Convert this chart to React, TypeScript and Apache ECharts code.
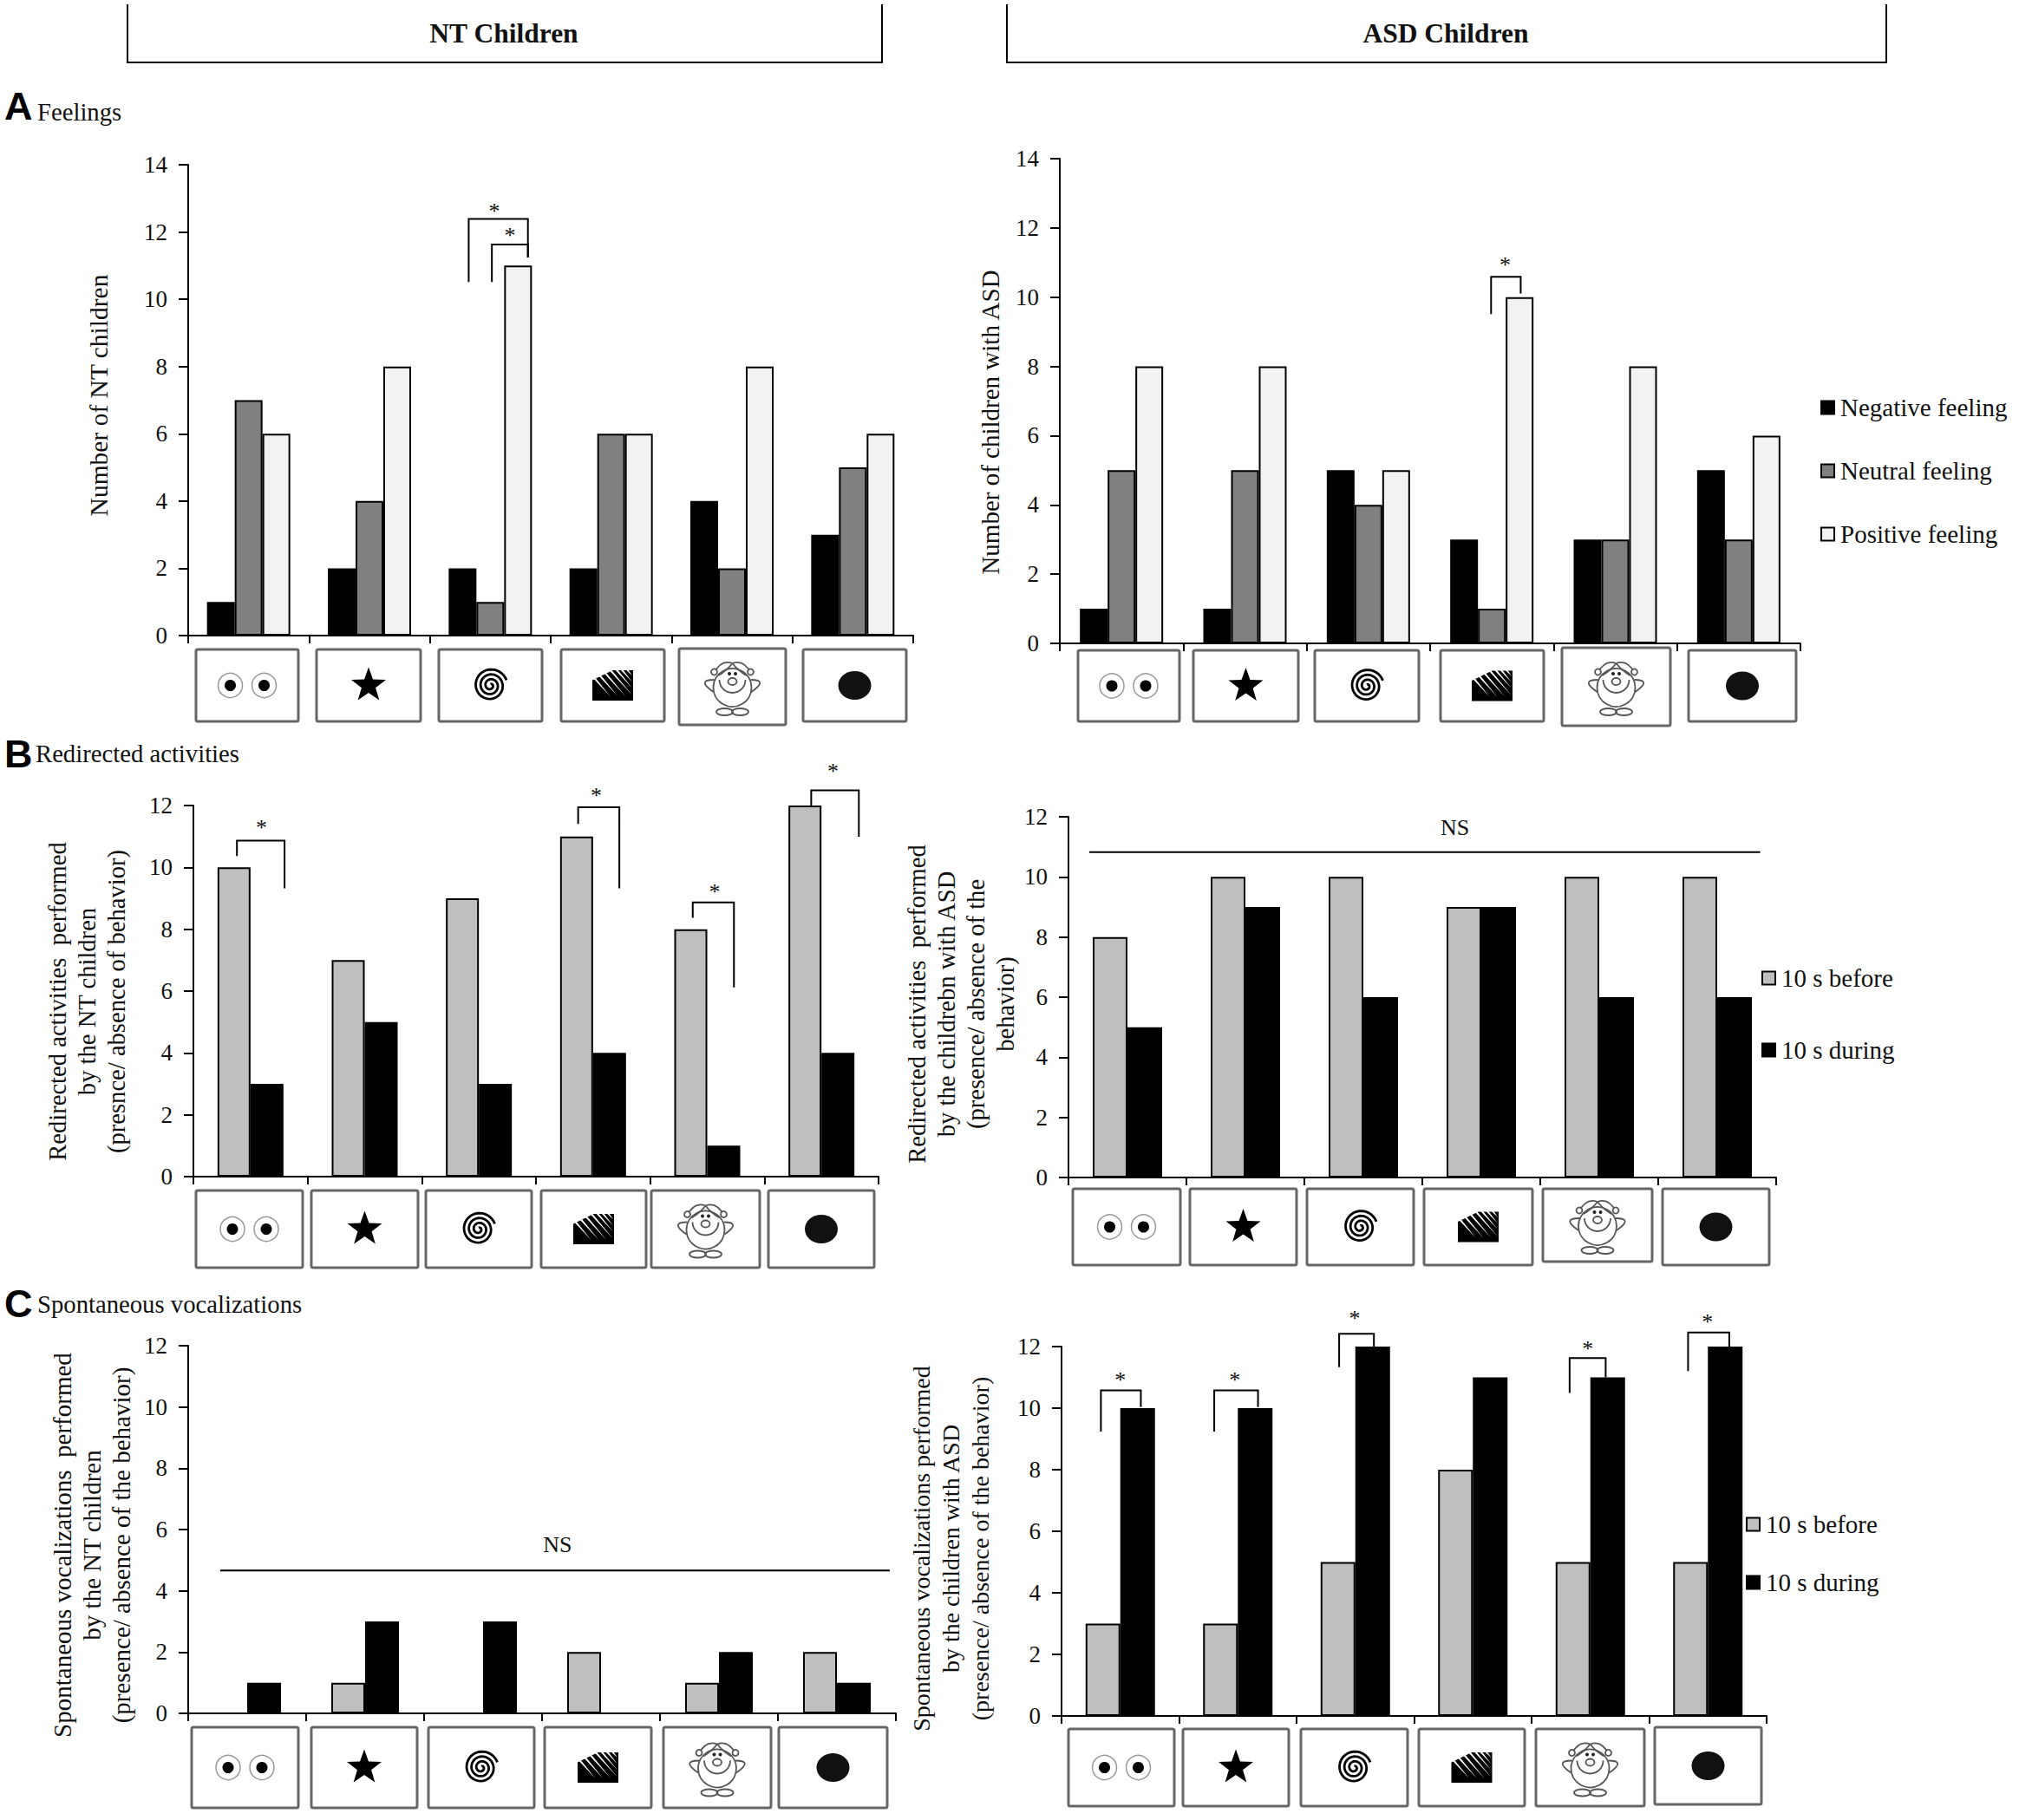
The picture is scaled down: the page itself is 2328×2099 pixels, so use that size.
import { useEffect, useRef } from "react";
import * as echarts from "echarts";

const serif = "Liberation Serif";
const S = 2328 / 1568; // annotation positions below were read at 1568 wide

const categories = ["Eyes", "Star", "Spiral", "Hatch", "Face", "Dot"];

const feelNames = ["Negative feeling", "Neutral feeling", "Positive feeling"];
const timeNames = ["10 s before", "10 s during"];

const feelNtNegative = [1, 2, 2, 2, 4, 3];
const feelNtNeutral = [7, 4, 1, 6, 2, 5];
const feelNtPositive = [6, 8, 11, 6, 8, 6];
const feelAsdNegative = [1, 1, 5, 3, 3, 5];
const feelAsdNeutral = [5, 5, 4, 1, 3, 3];
const feelAsdPositive = [8, 8, 5, 10, 8, 6];

const redirNtBefore = [10, 7, 9, 11, 8, 12];
const redirNtDuring = [3, 5, 3, 4, 1, 4];
const redirAsdBefore = [8, 10, 10, 9, 10, 10];
const redirAsdDuring = [5, 9, 6, 9, 6, 6];

const vocalNtBefore = [0, 1, 0, 2, 1, 2];
const vocalNtDuring = [1, 3, 3, 0, 2, 1];
const vocalAsdBefore = [3, 3, 5, 8, 5, 5];
const vocalAsdDuring = [10, 10, 12, 11, 11, 12];

const seriesColors: Record<string, string> = {
  "Negative feeling": "#000000",
  "Neutral feeling": "#808080",
  "Positive feeling": "#f2f2f2",
  "10 s before": "#bfbfbf",
  "10 s during": "#000000",
};

const panels = [
  { left: 217, width: 836, top: 190, bottom: 733, max: 14, barWidth: 32, names: feelNames, values: [feelNtNegative, feelNtNeutral, feelNtPositive], label: "Number of NT children", nameX: 114, nameY: 456, nameSize: 29.5 },
  { left: 1222, width: 854, top: 183, bottom: 742, max: 14, barWidth: 32, names: feelNames, values: [feelAsdNegative, feelAsdNeutral, feelAsdPositive], label: "Number of children with ASD", nameX: 1142, nameY: 487, nameSize: 29 },
  { left: 223, width: 790, top: 929, bottom: 1357, max: 12, barWidth: 38, names: timeNames, values: [redirNtBefore, redirNtDuring], label: "Redirected activities  performed\nby the NT children\n(presnce/ absence of behavior)", nameX: 100, nameY: 1155, nameSize: 28.6 },
  { left: 1232, width: 816, top: 942, bottom: 1358, max: 12, barWidth: 40, names: timeNames, values: [redirAsdBefore, redirAsdDuring], label: "Redirected activities  performed\nby the childrebn with ASD\n(presence/ absence of the\nbehavior)", nameX: 1108, nameY: 1158, nameSize: 28.6 },
  { left: 217, width: 816, top: 1552, bottom: 1976, max: 12, barWidth: 39, names: timeNames, values: [vocalNtBefore, vocalNtDuring], label: "Spontaneous vocalizations  performed\nby the NT children\n(presence/ absence of the behavior)", nameX: 106, nameY: 1782, nameSize: 29 },
  { left: 1224, width: 813, top: 1553, bottom: 1979, max: 12, barWidth: 40, names: timeNames, values: [vocalAsdBefore, vocalAsdDuring], label: "Spontaneous vocalizations performed\nby the children with ASD\n(presence/ absence of the behavior)", nameX: 1096, nameY: 1786, nameSize: 28 },
];

// picture frames under each axis: [x0, x1, y0, y1]
const frames = [
  [[226, 344, 749, 832], [365, 485, 749, 832], [506, 625, 749, 832], [647, 766, 749, 832], [783, 906, 748, 836], [926, 1045, 749, 832]],
  [[1243, 1360, 750, 832], [1376, 1497, 750, 832], [1516, 1636, 750, 832], [1661, 1780, 750, 832], [1801, 1926, 747, 837], [1947, 2071, 750, 832]],
  [[226, 349, 1373, 1462], [359, 482, 1373, 1462], [491, 613, 1373, 1462], [624, 745, 1373, 1462], [751, 876, 1373, 1462], [886, 1008, 1373, 1462]],
  [[1237, 1361, 1371, 1459], [1372, 1495, 1371, 1459], [1507, 1630, 1371, 1459], [1642, 1767, 1371, 1459], [1779, 1905, 1371, 1455], [1917, 2040, 1371, 1459]],
  [[221, 344, 1992, 2085], [359, 481, 1992, 2085], [494, 616, 1992, 2085], [628, 751, 1992, 2085], [765, 889, 1992, 2085], [898, 1023, 1992, 2085]],
  [[1232, 1354, 1994, 2083], [1364, 1486, 1994, 2083], [1500, 1623, 1994, 2083], [1636, 1758, 1994, 2083], [1771, 1896, 1994, 2083], [1908, 2031, 1992, 2081]],
];

// significance brackets: x0,yBottom,yTop,x1,yEnd then star position
const brackets = [
  [364, 219, 170, 410, 200, 384, 162],
  [382, 219, 190, 410, 200, 396, 181],
  [1158, 244, 215, 1181, 228, 1169, 204],
  [184, 665, 653, 221, 690, 203, 641],
  [449, 640, 627, 481, 690, 463, 616],
  [538, 713, 701, 570, 767, 555, 691],
  [630, 627, 614, 667, 650, 647, 597],
  [855, 1112, 1080, 886, 1093, 870, 1070],
  [943, 1112, 1080, 977, 1093, 959, 1070],
  [1040, 1062, 1036, 1067, 1046, 1052, 1022],
  [1219, 1082, 1055, 1247, 1070, 1233, 1046],
  [1311, 1065, 1035, 1343, 1046, 1326, 1025],
];

const line = (points: number[][], stroke = "#000", lineWidth = 2) => ({
  type: "polyline",
  shape: { points },
  style: { stroke, lineWidth, fill: "none" },
});

const text = (value: string, x: number, y: number, fontSize: number, extra: any = {}) => ({
  type: "text",
  x,
  y,
  style: {
    text: value,
    fontFamily: serif,
    fontSize,
    fill: "#111",
    align: "left",
    verticalAlign: "middle",
    ...extra,
  },
});

function eyes(cx: number, cy: number) {
  return [-19.5, 19.5].flatMap((dx) => [
    { type: "circle", shape: { cx: cx + dx, cy, r: 14 }, style: { fill: "#fff", stroke: "#999", lineWidth: 1.5 } },
    { type: "circle", shape: { cx: cx + dx, cy, r: 6.5 }, style: { fill: "#000" } },
  ]);
}

function star(cx: number, cy: number) {
  const points: number[][] = [];
  for (let i = 0; i < 10; i++) {
    const r = i % 2 ? 8.5 : 21;
    const a = -Math.PI / 2 + (i * Math.PI) / 5;
    points.push([cx + r * Math.cos(a), cy + r * Math.sin(a)]);
  }
  return [{ type: "polygon", shape: { points }, style: { fill: "#000" } }];
}

function spiral(cx: number, cy: number) {
  const points: number[][] = [];
  for (let i = 0; i <= 120; i++) {
    const t = i / 120;
    const a = -Math.PI / 2 + t * Math.PI * 6.4;
    const r = 1.5 + t * 18;
    points.push([cx + r * Math.cos(a), cy + r * Math.sin(a)]);
  }
  return [line(points, "#000", 2.8)];
}

function hatch(cx: number, cy: number) {
  const w = 23.5;
  const h = 17.5;
  const slope = 1.15;
  const out: any[] = [
    {
      type: "polygon",
      shape: { points: [[-w, -6], [0, -h], [w, -h], [w, h], [-w, h]].map(([x, y]) => [cx + x, cy + y]) },
      style: { fill: "#000" },
    },
  ];
  // white slits, wide at the top and running out towards the lower right
  for (let sx = -21; sx < 18; sx += 6.2) {
    const sy = sx < 0 ? -6 + ((sx + w) / w) * -11.5 - 1 : -h - 1;
    const len = Math.min(w - sx - 1, (h - 5 - sy) / slope);
    const tip = [sx + len, sy + len * slope];
    out.push({
      type: "polygon",
      shape: {
        points: [[sx - 1.5, sy], [sx + 1.5, sy], tip].map(([x, y]) => [cx + x, cy + y]),
      },
      style: { fill: "#fff" },
    });
  }
  return out;
}

function face(cx: number, cy: number) {
  const s = { fill: "none", stroke: "#555", lineWidth: 1.8 };
  const hair = (d: number) => [
    { type: "bezierCurve", shape: { x1: cx, y1: cy - 27, x2: cx + d * 22, y2: cy - 15, cpx1: cx + d * 13, cpy1: cy - 32 }, style: s },
    { type: "bezierCurve", shape: { x1: cx, y1: cy - 27, x2: cx + d * 16, y2: cy - 13, cpx1: cx + d * 6, cpy1: cy - 19 }, style: s },
    { type: "circle", shape: { cx: cx + d * 21, cy: cy - 17, r: 3.5 }, style: { ...s, fill: "#fff" } },
    { type: "bezierCurve", shape: { x1: cx + d * 21, y1: cy - 8, x2: cx + d * 22, y2: cy + 6, cpx1: cx + d * 42, cpy1: cy - 8 }, style: s },
  ];
  return [
    { type: "circle", shape: { cx, cy: cy + 1, r: 22 }, style: { ...s, fill: "#fff" } },
    ...hair(-1),
    ...hair(1),
    { type: "arc", shape: { cx, cy: cy - 8, r: 15, startAngle: 0, endAngle: Math.PI }, style: s },
    { type: "ellipse", shape: { cx, cy: cy - 6, rx: 5, ry: 4 }, style: s },
    { type: "circle", shape: { cx: cx - 3.5, cy: cy - 15, r: 2 }, style: { fill: "#222" } },
    { type: "circle", shape: { cx: cx + 3.5, cy: cy - 15, r: 2 }, style: { fill: "#222" } },
    { type: "ellipse", shape: { cx: cx - 9, cy: cy + 29, rx: 9.5, ry: 4 }, style: s },
    { type: "ellipse", shape: { cx: cx + 9, cy: cy + 29, rx: 9.5, ry: 4 }, style: s },
  ];
}

function dot(cx: number, cy: number) {
  return [{ type: "ellipse", shape: { cx, cy, rx: 19, ry: 16.5 }, style: { fill: "#111" } }];
}

const icons = [eyes, star, spiral, hatch, face, dot];

function buildGraphic() {
  const els: any[] = [];

  // column headers
  els.push(line([[147, 5], [147, 72], [1017, 72], [1017, 5]]));
  els.push(line([[1161, 5], [1161, 72], [2175, 72], [2175, 5]]));
  els.push(text("NT Children", 581, 38, 31.5, { align: "center", fontWeight: "bold" }));
  els.push(text("ASD Children", 1667, 38, 31.5, { align: "center", fontWeight: "bold" }));

  // section letters and titles
  const sections = [
    ["A", "Feelings", 43, 122, 129],
    ["B", "Redirected activities", 41, 869, 869],
    ["C", "Spontaneous vocalizations", 43, 1503, 1504],
  ] as const;
  sections.forEach(([letter, title, x, ly, ty]) => {
    els.push(text(letter, 5, ly, 45, { fontFamily: "Liberation Sans", fontWeight: "bold", fill: "#000" }));
    els.push(text(title, x, ty, 28.7));
  });

  // rotated axis titles
  panels.forEach((p) => {
    els.push({
      ...text(p.label, p.nameX, p.nameY, p.nameSize, { align: "center", lineHeight: 34 }),
      rotation: Math.PI / 2,
    });
  });

  // picture frames with their glyphs
  frames.forEach((row) => {
    row.forEach(([x0, x1, y0, y1], i) => {
      els.push({
        type: "rect",
        shape: { x: x0, y: y0, width: x1 - x0, height: y1 - y0, r: 2 },
        style: { fill: "#fff", stroke: "#666", lineWidth: 3 },
      });
      els.push(...icons[i]((x0 + x1) / 2, (y0 + y1) / 2));
    });
  });

  // brackets and stars
  brackets.forEach(([x0, yb, yt, x1, ye, sx, sy]) => {
    els.push(line([[x0 * S, yb * S], [x0 * S, yt * S], [x1 * S, yt * S], [x1 * S, ye * S]]));
    els.push(text("*", sx * S, sy * S + 3, 26, { align: "center" }));
  });

  // not significant spans
  els.push(line([[846 * S, 662 * S], [1367 * S, 662 * S]]));
  els.push(text("NS", 1130 * S, 643 * S, 26, { align: "center" }));
  els.push(line([[171 * S, 1220 * S], [691 * S, 1220 * S]]));
  els.push(text("NS", 433 * S, 1200 * S, 26, { align: "center" }));

  return els;
}

function legendAt(names: string[], left: number, top: number, itemGap: number) {
  return {
    data: names,
    orient: "vertical",
    left,
    top,
    itemGap,
    itemWidth: 15,
    itemHeight: 15,
    icon: "rect",
    selectedMode: false,
    padding: 0,
    textStyle: { fontFamily: serif, fontSize: 29, color: "#111", lineHeight: 30, padding: [0, 0, 0, 2] },
  };
}

export default function App() {
  const ref = useRef<HTMLDivElement>(null);

  useEffect(() => {
    if (!ref.current) return;
    document.body.style.margin = "0";
    const chart = echarts.init(ref.current, null, { renderer: "svg" });

    chart.setOption({
      animation: false,
      backgroundColor: "#ffffff",
      grid: panels.map((p) => ({ left: p.left, top: p.top, width: p.width, height: p.bottom - p.top })),
      xAxis: panels.map((_, i) => ({
        type: "category",
        gridIndex: i,
        data: categories,
        axisLabel: { show: false },
        axisLine: { lineStyle: { color: "#000", width: 2 } },
        axisTick: { show: true, length: 9, lineStyle: { color: "#000", width: 2 } },
      })),
      yAxis: panels.map((p, i) => ({
        type: "value",
        gridIndex: i,
        min: 0,
        max: p.max,
        interval: 2,
        splitLine: { show: false },
        axisLine: { show: true, lineStyle: { color: "#000", width: 2 } },
        axisTick: { show: true, length: 11, lineStyle: { color: "#000", width: 2 } },
        axisLabel: { fontFamily: serif, fontSize: 27, color: "#111", margin: 24 },
      })),
      legend: [
        legendAt(feelNames, 2099, 455, 43),
        legendAt(timeNames, 2031, 1113, 53),
        legendAt(timeNames, 2013, 1743, 37),
      ],
      series: panels.flatMap((p, i) =>
        p.names.map((name, k) => ({
          type: "bar",
          name,
          xAxisIndex: i,
          yAxisIndex: i,
          barWidth: p.barWidth,
          barGap: "0%",
          data: p.values[k],
          itemStyle: { color: seriesColors[name], borderColor: "#000", borderWidth: 2 },
        }))
      ),
      graphic: { elements: buildGraphic() },
    });

    return () => {
      chart.dispose();
    };
  }, []);

  return <div ref={ref} style={{ width: 2328, height: 2099 }} />;
}
